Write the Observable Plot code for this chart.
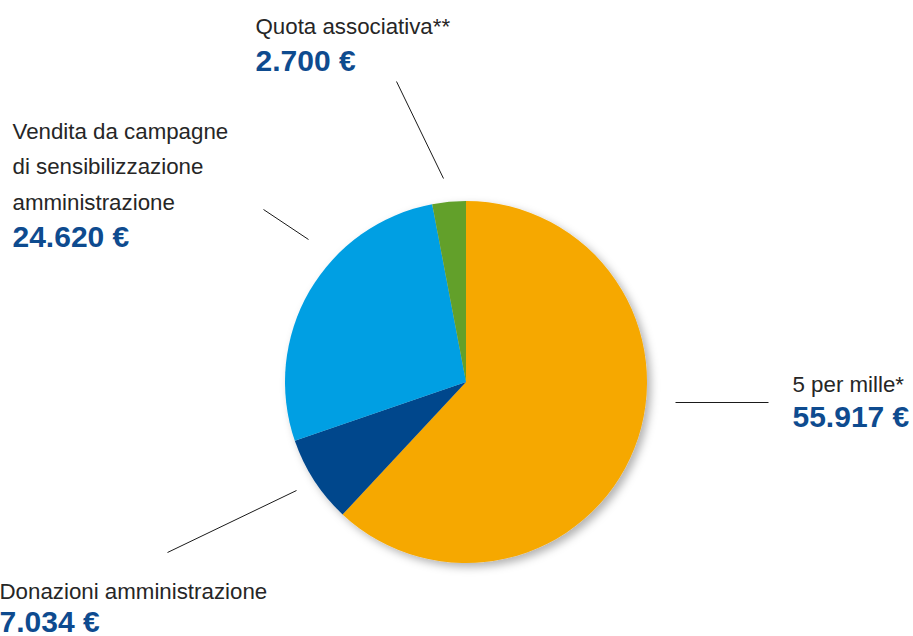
<!DOCTYPE html>
<html>
<head>
<meta charset="utf-8">
<script src="https://cdn.jsdelivr.net/npm/d3@7"></script>
<script src="https://cdn.jsdelivr.net/npm/@observablehq/plot@0.6"></script>
<style>
  html, body { margin: 0; padding: 0; background: #fff; overflow: hidden; }
  #chart svg { display: block; }
</style>
</head>
<body>
<div id="chart"></div>
<script>
// ---- data ----
const categories = ["5 per mille*", "Donazioni amministrazione", "Vendita da campagne di sensibilizzazione amministrazione", "Quota associativa**"];
const values = [55917, 7034, 24620, 2700];
const valueLabels = ["55.917 €", "7.034 €", "24.620 €", "2.700 €"];
const nameLines = [["5 per mille*"], ["Donazioni amministrazione"], ["Vendita da campagne", "di sensibilizzazione", "amministrazione"], ["Quota associativa**"]];
const colors = ["#F6A800", "#00468C", "#009FE3", "#62A02B"];

// ---- layout (annotation placement, in page pixels) ----
const W = 913, H = 636;
const center = {x: 466, y: 382, r: 181};
const labelLayout = [
  {x: 792, nameY: 391, valueY: 426, line: [675, 402, 768, 402]},
  {x: -1,  nameY: 598, valueY: 631, line: [296, 490, 167, 552]},
  {x: 12,  nameY: 209, valueY: 246, line: [263, 209, 308, 239]},
  {x: 255, nameY: 33,  valueY: 70,  line: [396, 81, 443, 178]}
];

const slices = categories.map((c, i) => ({category: c, value: values[i], color: colors[i]}));
const nameRows = categories.map((c, i) => ({text: nameLines[i].join("\n"), x: labelLayout[i].x, y: labelLayout[i].nameY}));
const valueRows = categories.map((c, i) => ({text: valueLabels[i], x: labelLayout[i].x, y: labelLayout[i].valueY}));
const leaderRows = categories.map((c, i) => {
  const [x1, y1, x2, y2] = labelLayout[i].line;
  return {x1, y1, x2, y2};
});

// custom pie mark drawn through Plot's scales
function pieMark(data) {
  return (index, scales) => {
    const cx = scales.x(center.x), cy = scales.y(center.y);
    const r = scales.x(center.x + center.r) - cx;
    const pie = d3.pie().sort(null).value(d => d.value)(data);
    const arc = d3.arc().innerRadius(0).outerRadius(r);
    const g = d3.create("svg:g");
    const defs = g.append("defs");
    const f = defs.append("filter").attr("id", "pieShadow").attr("x", "-20%").attr("y", "-20%").attr("width", "140%").attr("height", "140%");
    f.append("feDropShadow").attr("dx", 4).attr("dy", 4).attr("stdDeviation", 4)
      .attr("flood-color", "#000").attr("flood-opacity", 0.3);
    const pg = g.append("g").attr("transform", `translate(${cx},${cy})`).attr("filter", "url(#pieShadow)");
    pg.selectAll("path").data(pie).join("path")
      .attr("d", arc)
      .attr("fill", d => d.data.color);
    return g.node();
  };
}

const chart = Plot.plot({
  width: W,
  height: H,
  margin: 0,
  x: {domain: [0, W], range: [0, W], axis: null},
  y: {domain: [0, H], range: [0, H], axis: null},
  style: {background: "#fff", overflow: "visible"},
  marks: [
    Plot.link(leaderRows, {x1: "x1", y1: "y1", x2: "x2", y2: "y2", stroke: "#1a1a1a", strokeWidth: 1}),
    pieMark(slices),
    Plot.text(nameRows, {x: "x", y: "y", text: "text", textAnchor: "start", lineAnchor: "bottom",
      lineHeight: 1.58, fontSize: 22.3, fill: "#262626", fontFamily: "Liberation Sans, Arial, sans-serif"}),
    Plot.text(valueRows, {x: "x", y: "y", text: "text", textAnchor: "start", lineAnchor: "bottom",
      fontSize: 30, fontWeight: "bold", fill: "#0E4B8F", fontFamily: "Liberation Sans, Arial, sans-serif"})
  ]
});
document.getElementById("chart").appendChild(chart);
</script>
</body>
</html>
